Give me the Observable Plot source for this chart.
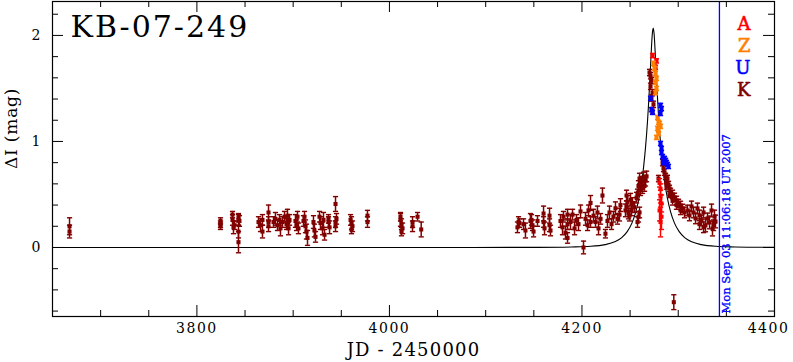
<!DOCTYPE html>
<html><head><meta charset="utf-8">
<script src="https://cdn.jsdelivr.net/npm/d3@7"></script>
<script src="https://cdn.jsdelivr.net/npm/@observablehq/plot@0.6"></script>
<style>
body{margin:0;background:#fff}
svg g[aria-label="x-axis tick label"] text{letter-spacing:1.5px}
</style>
</head><body><div id="chart"></div><script>
const title = "KB-07-249";
const xLabel = "JD - 2450000";
const yLabel = "ΔI (mag)";
const stamp = "Mon Sep 03 11:06:18 UT 2007";
const stampT = 4342.8;
const series = ["A","Z","U","K"];
const colors = ["#ff0000","#ff8000","#0000ff","#800000"];
const xMajor = [3800,4000,4200,4400];
const xMinor = [3700,3750,3850,3900,3950,4050,4100,4150,4250,4300,4350];
const yMajor = [0,1,2];
const yMinor = [-0.6,-0.4,-0.2,0.2,0.4,0.6,0.8,1.2,1.4,1.6,1.8,2.2];

// model curve
const modelT = [3650,4074,4154,4189,4209,4224,4234,4241,4247,4252,4256,4259,4262,4264,4266,4268,4269,4270,4271,4272,4273,4274,4275,4276,4277,4278,4279,4280,4282,4284,4286,4289,4292,4296,4301,4307,4314,4324,4339,4359,4394,4400];
const modelI = [0,0.0001,0.0013,0.0052,0.0112,0.027,0.053,0.0905,0.149,0.232,0.338,0.453,0.614,0.758,0.942,1.180,1.325,1.489,1.668,1.852,2.006,2.069,2.006,1.852,1.668,1.489,1.325,1.180,0.942,0.758,0.614,0.453,0.338,0.232,0.149,0.0905,0.053,0.027,0.0112,0.0052,0.0013,0.001];

// [JD-2450000, dI, err]
const kData = [
[3667.7,0.20,0.08],[3667.7,0.15,0.06],
[3824.5,0.25,0.03],[3824.5,0.22,0.03],[3824.5,0.20,0.03],
[3837.0,0.31,0.03],[3837.0,0.26,0.05],[3839.1,0.21,0.04],[3838.0,0.19,0.06],
[3843.2,0.28,0.04],[3843.2,0.26,0.05],[3843.2,0.15,0.06],[3843.2,0.05,0.10],[3844.2,0.25,0.05],
[3864.0,0.24,0.05],[3866.1,0.21,0.06],[3868.1,0.26,0.05],[3868.1,0.15,0.06],
[3874.4,0.33,0.07],[3874.4,0.24,0.05],[3874.4,0.20,0.05],
[3879.6,0.24,0.05],[3881.6,0.27,0.06],[3883.7,0.21,0.05],[3885.8,0.26,0.05],[3886.8,0.18,0.07],[3888.9,0.24,0.05],[3891.0,0.29,0.05],[3893.1,0.22,0.05],[3894.1,0.30,0.06],[3894.1,0.24,0.05],[3895.2,0.18,0.06],[3896.2,0.26,0.05],
[3902.4,0.25,0.06],[3903.5,0.21,0.05],[3904.5,0.29,0.05],[3905.5,0.18,0.05],
[3910.7,0.25,0.05],[3911.8,0.29,0.05],[3912.8,0.20,0.06],[3913.8,0.15,0.07],[3914.9,0.09,0.07],
[3921.1,0.24,0.06],[3922.1,0.16,0.06],[3923.2,0.10,0.05],
[3927.4,0.29,0.05],[3928.4,0.23,0.06],[3930.5,0.18,0.06],[3931.5,0.26,0.07],[3932.6,0.12,0.05],
[3936.7,0.24,0.05],[3936.7,0.27,0.04],[3937.8,0.19,0.06],
[3944.0,0.41,0.07],[3944.0,0.24,0.05],[3944.0,0.20,0.05],[3945.0,0.27,0.05],
[3959.6,0.26,0.05],[3960.6,0.23,0.06],[3961.6,0.20,0.05],[3960.6,0.17,0.04],
[3977.2,0.30,0.05],[3977.2,0.24,0.05],
[4011.5,0.26,0.06],[4012.5,0.22,0.05],[4013.6,0.18,0.05],[4011.5,0.29,0.04],[4012.5,0.15,0.04],
[4024.0,0.24,0.05],[4024.0,0.20,0.05],[4029.2,0.29,0.04],[4033.0,0.17,0.07],
[4133.0,0.19,0.05],[4134.1,0.24,0.05],[4135.1,0.23,0.04],[4139.3,0.22,0.05],[4141.3,0.16,0.07],
[4146.5,0.25,0.07],[4147.6,0.26,0.05],[4148.6,0.21,0.05],[4149.7,0.15,0.05],[4153.8,0.25,0.05],
[4160.1,0.32,0.07],[4160.1,0.24,0.05],[4161.1,0.18,0.06],[4166.3,0.30,0.07],[4166.3,0.21,0.06],[4167.3,0.16,0.05],
[4177.7,0.25,0.06],[4179.8,0.19,0.07],[4180.8,0.29,0.05],[4182.9,0.14,0.06],[4185.0,0.22,0.05],[4185.0,0.31,0.05],[4185.0,0.09,0.05],
[4188.1,0.24,0.07],[4190.2,0.31,0.05],[4192.3,0.18,0.06],[4194.3,0.26,0.05],[4196.4,0.22,0.06],[4198.5,0.34,0.06],
[4201.6,0.00,0.06],[4203.7,0.27,0.06],[4205.8,0.21,0.05],[4206.8,0.35,0.05],[4208.9,0.42,0.07],[4208.9,0.24,0.05],
[4212.0,0.30,0.06],[4214.1,0.24,0.05],[4216.1,0.33,0.06],[4217.2,0.18,0.06],[4219.3,0.27,0.05],[4221.3,0.49,0.07],
[4224.4,0.13,0.04],[4226.5,0.25,0.06],[4228.6,0.33,0.06],[4230.7,0.22,0.05],[4232.7,0.29,0.05],[4234.8,0.37,0.06],[4236.9,0.27,0.05],[4239.0,0.31,0.06],[4240.0,0.40,0.06],
[4245.2,0.35,0.06],[4246.3,0.39,0.05],[4246.3,0.49,0.05],[4247.3,0.43,0.06],[4248.3,0.32,0.05],[4249.4,0.30,0.05],[4250.4,0.45,0.06],[4251.5,0.35,0.05],[4252.5,0.42,0.05],[4254.6,0.38,0.05],
[4256.7,0.47,0.05],[4257.7,0.50,0.05],[4257.7,0.24,0.05],[4258.7,0.29,0.05],[4258.7,0.58,0.05],[4259.8,0.33,0.05],[4259.8,0.65,0.05],[4260.8,0.54,0.05],[4261.8,0.62,0.05],[4262.9,0.56,0.05],[4263.9,0.66,0.05],[4265.0,0.58,0.05],[4266.0,0.63,0.05],[4267.1,0.67,0.05],
[4270.2,1.65,0.03],[4271.2,1.62,0.03],[4272.2,1.575,0.03],[4271.2,1.52,0.03],[4273.3,1.46,0.03],[4272.2,1.41,0.03],[4274.3,1.35,0.03],[4273.3,1.29,0.03],
[4279.5,0.65,0.03],[4283.7,0.80,0.03],[4284.7,0.745,0.03],[4285.7,0.71,0.03],[4286.8,0.67,0.03],[4287.8,0.632,0.03],[4287.8,0.58,0.03],[4288.8,0.651,0.03],[4289.9,0.594,0.03],[4290.9,0.557,0.03],[4290.9,0.50,0.03],[4292.0,0.519,0.04],[4294.1,0.50,0.04],[4294.1,0.44,0.04],[4295.4,-0.516,0.07],[4296.1,0.472,0.04],[4298.2,0.443,0.04],[4298.2,0.40,0.04],[4300.3,0.415,0.04],[4302.4,0.396,0.04],[4302.4,0.35,0.04],[4304.4,0.368,0.04],[4306.5,0.330,0.05],
[4309.6,0.349,0.05],[4311.7,0.302,0.05],[4313.8,0.387,0.05],[4315.9,0.33,0.05],[4318.0,0.274,0.05],[4320.0,0.368,0.05],[4322.1,0.302,0.05],[4322.1,0.22,0.05],[4324.2,0.255,0.05],[4326.3,0.33,0.05],[4326.3,0.19,0.05],[4328.3,0.208,0.06],[4330.4,0.274,0.05],[4332.5,0.236,0.06],[4334.6,0.349,0.06],[4335.6,0.179,0.07],[4336.7,0.21,0.05],[4337.7,0.292,0.06],[4338.7,0.245,0.06]
];
const aData = [
[4273.3,1.81,0.02],[4277.4,1.76,0.02],[4276.4,1.70,0.02],
[4280.6,0.61,0.04],[4281.6,0.55,0.05],[4281.6,0.48,0.06],[4282.6,0.415,0.08],[4280.6,0.35,0.10],[4282.6,0.29,0.12],[4281.6,0.24,0.14]
];
const zData = [
[4274.3,1.736,0.02],[4275.4,1.689,0.02],[4276.4,1.642,0.02],[4277.4,1.594,0.02],[4276.4,1.557,0.02],[4277.4,1.50,0.02],[4276.4,1.46,0.02],
[4278.5,1.226,0.02],[4279.5,1.18,0.02],[4280.6,1.17,0.02],[4281.6,1.142,0.02],[4279.5,1.104,0.02],[4278.5,1.123,0.02],[4279.5,1.075,0.02],[4277.4,1.038,0.02]
];
const uData = [
[4271.2,1.406,0.02],[4281.6,1.34,0.02],[4273.3,1.274,0.02],[4281.6,1.264,0.02],[4272.2,1.30,0.02],[4282.6,1.31,0.02],
[4281.6,0.981,0.02],[4282.6,0.934,0.02],[4282.6,0.896,0.02],[4283.7,0.858,0.02],[4284.7,0.80,0.02],[4285.7,0.840,0.02],[4286.8,0.821,0.02],[4287.8,0.802,0.02],[4288.8,0.783,0.02],[4289.9,0.764,0.02]
];

const model = modelT.map((t,i)=>({t, v: modelI[i]}));
const W = 793, H = 362, mL = 52, mR = 19, mT = 1, mB = 46;
const fw = W - mL - mR, fh = H - mT - mB;

const cap = {draw(ctx, size){ const r = Math.sqrt(size/Math.PI); ctx.moveTo(-r,0); ctx.lineTo(r,0); }};
function seriesMarks(data, color){
  const x = d=>d[0];
  return [
    Plot.ruleX(data, {x, y1: d=>d[1]-d[2], y2: d=>d[1]+d[2], stroke: color, strokeWidth: 1.5}),
    Plot.dot(data, {x, y: d=>d[1]-d[2], symbol: cap, r: 2.6, stroke: color, fill: "none", strokeWidth: 1.4}),
    Plot.dot(data, {x, y: d=>d[1]+d[2], symbol: cap, r: 2.6, stroke: color, fill: "none", strokeWidth: 1.4}),
    Plot.dot(data, {x, y: d=>d[1], symbol: "square", r: 2.3, fill: color, stroke: "none"})
  ];
}
const col = s => colors[series.indexOf(s)];

const chart = Plot.plot({
  width: W, height: H,
  marginLeft: mL, marginRight: mR, marginTop: mT, marginBottom: mB,
  x: {domain: [3650, 4400]},
  y: {domain: [-0.651, 2.32]},
  style: {fontFamily: "DejaVu Serif", fontSize: "14px", background: "#fff", color: "#000"},
  marks: [
    Plot.line(model, {x: "t", y: "v", stroke: "#000", strokeWidth: 1.1, curve: "monotone-x"}),
    Plot.ruleX([stampT], {stroke: "#0000ff", strokeWidth: 1.3}),
    ...seriesMarks(kData, col("K")),
    ...seriesMarks(aData, col("A")),
    ...seriesMarks(zData, col("Z")),
    ...seriesMarks(uData, col("U")),
    Plot.frame({stroke: "#000", strokeWidth: 1.2}),
    // inward ticks on all four sides
    Plot.ruleX(xMajor, {insetTop: fh - 11, stroke: "#000"}),
    Plot.ruleX(xMajor, {insetBottom: fh - 11, stroke: "#000"}),
    Plot.ruleX(xMinor, {insetTop: fh - 6, stroke: "#000"}),
    Plot.ruleX(xMinor, {insetBottom: fh - 6, stroke: "#000"}),
    Plot.ruleY(yMajor, {insetRight: fw - 11, stroke: "#000"}),
    Plot.ruleY(yMajor, {insetLeft: fw - 11, stroke: "#000"}),
    Plot.ruleY(yMinor, {insetRight: fw - 6, stroke: "#000"}),
    Plot.ruleY(yMinor, {insetLeft: fw - 6, stroke: "#000"}),
    Plot.axisX(xMajor.slice(0, -1), {tickSize: 0, tickPadding: 7, label: null, fontSize: 14, tickFormat: d=>String(d)}),
    Plot.axisX(xMajor.slice(-1), {tickSize: 0, tickPadding: 7, label: null, fontSize: 14, dx: -6, tickFormat: d=>String(d)}),
    Plot.axisY(yMajor, {tickSize: 0, tickPadding: 12, label: null, fontSize: 14, tickFormat: d=>String(d)}),
    Plot.text([xLabel], {text: d=>d, frameAnchor: "bottom", dy: 39, fontSize: 18}),
    Plot.text([yLabel], {text: d=>d, frameAnchor: "left", rotate: -90, dx: -41, dy: 10, fontSize: 17}),
    Plot.text([title], {text: d=>d, frameAnchor: "top-left", textAnchor: "start", lineAnchor: "top", dx: 18, dy: 14, fontSize: 30}),
    Plot.text([stamp], {text: d=>d, x: ()=>stampT, frameAnchor: "bottom", rotate: -90, textAnchor: "start", dx: 10.5, dy: -3, fill: "#0000ff", stroke: "#0000ff", strokeWidth: 0.35, fontSize: 11.5}),
    ...series.map((s,i)=>Plot.text([s], {text: d=>d, frameAnchor: "top-right", dx: -24, dy: 16 + 22*i, fill: colors[i], stroke: colors[i], strokeWidth: 0.6, fontSize: 18}))
  ]
});
const svg = d3.select(chart);
svg.selectAll("text").filter(function(){ return this.textContent === xLabel; }).style("letter-spacing", "1.2px");
svg.selectAll("text").filter(function(){ return this.textContent === title; }).style("letter-spacing", "2px");
svg.selectAll("text").filter(function(){ return this.textContent === yLabel; }).style("letter-spacing", "0.8px");
document.getElementById("chart").appendChild(chart);
</script></body></html>
